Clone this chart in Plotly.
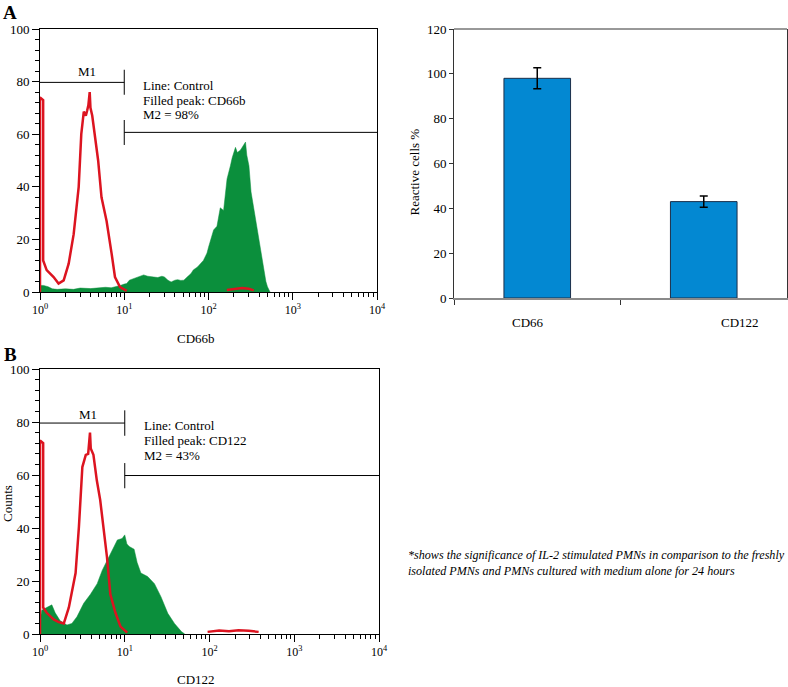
import plotly.graph_objects as go

# ---------------- data ----------------
# Panel A (CD66b) histogram
ctrlA_x = [1.0, 1.0, 1.09, 1.09, 1.2, 1.45, 1.66, 1.91, 2.19, 2.51, 2.88, 3.09, 3.31, 3.5, 3.63, 3.75,
           3.89, 3.97, 4.17, 4.47, 4.9, 5.37, 6.17, 7.08, 7.76, 8.91, 10.7, None,
           165, 200, 250, 300, 345]
ctrlA_y = [0, 74, 73, 12, 8.3, 5.7, 3.2, 4.4, 10.8, 22, 40, 60, 68.6, 67, 69, 71,
           76, 70, 67, 60, 50, 36, 27, 14.6, 5.7, 1.9, 0.4, None,
           0.8, 1.2, 1.5, 1.2, 0.6]
cd66b_x = [1.0, 1.1, 1.25, 1.4, 1.6, 2.0, 2.5, 3.0, 4.0, 5.0, 6.0, 7.0, 8.0, 9.0, 10.0, 10.7, 11.5,
           12.9, 15.5, 17, 19, 22, 25, 28, 30, 33, 36, 40, 43, 47, 51, 55, 62, 66, 74, 87, 96,
           100, 115, 126, 138, 151, 166, 182, 191, 209, 220, 240, 260, 275, 285, 302, 320, 347,
           370, 398, 430, 457, 480, 501, 537]
cd66b_y = [2.5, 2.5, 2.0, 1.2, 1.0, 1.2, 1.0, 1.5, 1.3, 1.5, 1.8, 1.6, 2.0, 2.5, 3.0, 3.2, 4.5,
           5.0, 5.8, 6.5, 6.0, 5.8, 5.5, 6.0, 5.7, 4.5, 3.8, 4.5, 4.7, 4.4, 4.5, 5.5, 7.0, 8.4, 9.5, 12, 14.8,
           17, 23.6, 25, 32, 31, 43, 48, 51, 55, 53, 54, 56, 57, 52, 48, 38, 31,
           25, 20, 12, 8, 4, 2, 0]

# Panel B (CD122) histogram
ctrlB_x = [1.0, 1.0, 1.09, 1.09, 1.2, 1.45, 1.66, 1.91, 2.19, 2.63, 2.88, 3.16, 3.47, 3.7, 3.89,
           3.97, 4.27, 4.68, 5.13, 5.62, 6.17, 6.76, 7.76, 8.91, 10.7, None,
           95, 130, 170, 220, 290, 380]
ctrlB_y = [0, 73, 72, 10, 8, 5.5, 4.5, 4, 10, 23, 40.5, 63, 67.6, 68, 76,
           70, 67.6, 58, 50.6, 40, 29, 15, 8, 2.8, 0.5, None,
           0.8, 1.3, 1.0, 1.4, 1.2, 0.8]
cd122_x = [1.0, 1.05, 1.2, 1.38, 1.51, 1.73, 2.08, 2.38, 2.73, 3.28, 3.94, 4.73, 5.42, 6.22, 7.13,
           8.18, 9.3, 10.0, 10.6, 11.3, 12.9, 14.0, 15.5, 18.6, 22.4, 26.8, 32.2, 38.6, 46.6, 51]
cd122_y = [5, 9, 10, 11, 8, 5, 3.4, 4, 6.5, 11.6, 15, 19, 24, 28, 32,
           35.5, 36, 37.4, 34, 33, 32, 27, 23, 21.7, 19, 14, 7.8, 4, 0.9, 0]

# Gates (marker regions)
gateA_m1_y = 79.7
gateA_m2_y = 60.7
gateB_m1_y = 79.6
gateB_m2_y = 59.8
gate_x_start = 1
gate_x_split = 10
gate_x_end = 10000

hist_tickvals = [1, 10, 100, 1000, 10000]
hist_ticktext = ["10<sup>0</sup>", "10<sup>1</sup>", "10<sup>2</sup>", "10<sup>3</sup>", "10<sup>4</sup>"]

# Bar chart
bar_categories = ["CD66", "CD122"]
bar_values = [98, 43]
bar_errors = [4.7, 2.5]

footnote = ("*shows the significance of IL-2 stimulated PMNs in comparison to the freshly<br>"
            "isolated PMNs and PMNs cultured with medium alone for 24 hours")

# ---------------- figure ----------------
FONT = "Liberation Serif"
RED = "#dc1420"
GREEN = "#0b8f3c"

fig = go.Figure()

# Panel A
fig.add_trace(go.Scatter(x=cd66b_x, y=cd66b_y, mode="lines", fill="tozeroy",
                         fillcolor=GREEN, line=dict(color=GREEN, width=0.5),
                         xaxis="x", yaxis="y", showlegend=False))
fig.add_trace(go.Scatter(x=ctrlA_x, y=ctrlA_y, mode="lines",
                         line=dict(color=RED, width=2.5), xaxis="x", yaxis="y", showlegend=False))
fig.add_trace(go.Scatter(x=[gate_x_start, gate_x_split, None, gate_x_split, gate_x_split],
                         y=[gateA_m1_y, gateA_m1_y, None, gateA_m1_y + 4.8, gateA_m1_y - 4.7],
                         mode="lines", line=dict(color="black", width=1),
                         xaxis="x", yaxis="y", showlegend=False))
fig.add_trace(go.Scatter(x=[gate_x_split, gate_x_end, None, gate_x_split, gate_x_split],
                         y=[gateA_m2_y, gateA_m2_y, None, gateA_m2_y + 4.7, gateA_m2_y - 4.8],
                         mode="lines", line=dict(color="black", width=1),
                         xaxis="x", yaxis="y", showlegend=False))

# Bar chart
fig.add_trace(go.Bar(x=bar_categories, y=bar_values, width=0.4,
                     marker=dict(color="#0388d2", line=dict(color="#1c2f4a", width=1)),
                     error_y=dict(type="data", array=bar_errors, color="black",
                                  thickness=1.5, width=4),
                     xaxis="x2", yaxis="y2", showlegend=False))

# Panel B
fig.add_trace(go.Scatter(x=cd122_x, y=cd122_y, mode="lines", fill="tozeroy",
                         fillcolor=GREEN, line=dict(color=GREEN, width=0.5),
                         xaxis="x3", yaxis="y3", showlegend=False))
fig.add_trace(go.Scatter(x=ctrlB_x, y=ctrlB_y, mode="lines",
                         line=dict(color=RED, width=2.5), xaxis="x3", yaxis="y3", showlegend=False))
fig.add_trace(go.Scatter(x=[gate_x_start, gate_x_split, None, gate_x_split, gate_x_split],
                         y=[gateB_m1_y, gateB_m1_y, None, gateB_m1_y + 4.8, gateB_m1_y - 4.8],
                         mode="lines", line=dict(color="black", width=1),
                         xaxis="x3", yaxis="y3", showlegend=False))
fig.add_trace(go.Scatter(x=[gate_x_split, gate_x_end, None, gate_x_split, gate_x_split],
                         y=[gateB_m2_y, gateB_m2_y, None, gateB_m2_y + 4.7, gateB_m2_y - 4.8],
                         mode="lines", line=dict(color="black", width=1),
                         xaxis="x3", yaxis="y3", showlegend=False))

W, H = 788, 687

def hist_x(domain):
    return dict(domain=domain, type="log", range=[0, 4], tickvals=hist_tickvals,
                ticktext=hist_ticktext, ticks="outside", ticklen=7, tickcolor="black",
                showline=True, linecolor="black", linewidth=1, mirror=True,
                showgrid=False, zeroline=False, automargin=False,
                tickfont=dict(family=FONT, size=12, color="black"),
                minor=dict(dtick="D1", ticks="outside", ticklen=4, tickcolor="black", showgrid=False))

def hist_y(domain, anchor):
    return dict(domain=domain, anchor=anchor, range=[0, 100], tickvals=[0, 20, 40, 60, 80, 100],
                ticks="outside", ticklen=7, tickcolor="black",
                showline=True, linecolor="black", linewidth=1, mirror=True,
                showgrid=False, zeroline=False, automargin=False,
                tickfont=dict(family=FONT, size=13, color="black"),
                minor=dict(dtick=4, ticks="outside", ticklen=4, tickcolor="black", showgrid=False))

xa = hist_x([40 / W, 377 / W]); xa["anchor"] = "y"
xb = hist_x([40 / W, 379 / W]); xb["anchor"] = "y3"

fig.update_layout(
    width=W, height=H,
    margin=dict(l=0, r=0, t=0, b=0, autoexpand=False),
    paper_bgcolor="white", plot_bgcolor="white",
    font=dict(family=FONT, color="black"),
    xaxis=xa,
    yaxis=hist_y([1 - 292 / H, 1 - 29 / H], "x"),
    xaxis3=xb,
    yaxis3=hist_y([1 - 634 / H, 1 - 369 / H], "x3"),
    xaxis2=dict(domain=[454 / W, 787 / W], anchor="y2", tickson="boundaries",
                ticks="outside", ticklen=5, tickcolor="#333", showticklabels=False,
                showline=True, linecolor="#8a8a8a", linewidth=1.5, showgrid=False,
                range=[-0.5, 1.5], automargin=False),
    yaxis2=dict(domain=[1 - 298 / H, 1 - 29 / H], anchor="x2", range=[0, 120], dtick=20,
                ticks="outside", ticklen=4, tickcolor="#333",
                showline=True, linecolor="#333", linewidth=1, mirror=True,
                showgrid=False, zeroline=False, automargin=False,
                tickfont=dict(family=FONT, size=13, color="black")),
    bargap=0.6,
)

# top border of bar chart
fig.add_shape(type="line", xref="x2 domain", yref="y2 domain", x0=0, x1=1, y0=1, y1=1,
              line=dict(color="#333", width=1))

ann = []
def T(text, x, y, xref="paper", yref="paper", size=13, xanchor="center", yanchor="middle", **kw):
    ann.append(dict(text=text, x=x, y=y, xref=xref, yref=yref, showarrow=False,
                    xanchor=xanchor, yanchor=yanchor, borderpad=0,
                    font=dict(family=FONT, size=size, color="black"), **kw))

# panel letters
T("<b>A</b>", 10 / W, 1 - 12 / H, size=19)
T("<b>B</b>", 10 / W, 1 - 354 / H, size=19)

# Panel A texts (log-axis annotations use log10 x)
T("M1", 0.56, 83.9, xref="x", yref="y")
T("Line: Control", 1.21, 78.7, xref="x", yref="y", xanchor="left")
T("Filled peak: CD66b", 1.21, 73.0, xref="x", yref="y", xanchor="left")
T("M2 = 98%", 1.21, 67.3, xref="x", yref="y", xanchor="left")
T("CD66b", 196 / W, 1 - 338 / H)

# Panel B texts
T("M1", 0.563, 82.7, xref="x3", yref="y3")
T("Line: Control", 1.21, 78.6, xref="x3", yref="y3", xanchor="left")
T("Filled peak: CD122", 1.21, 72.9, xref="x3", yref="y3", xanchor="left")
T("M2 = 43%", 1.21, 67.4, xref="x3", yref="y3", xanchor="left")
T("CD122", 196 / W, 1 - 679 / H)
T("Counts", 7 / W, 1 - 504 / H, textangle=-90)

# Bar chart texts
T("Reactive cells %", 413.5 / W, 1 - 172 / H, size=13, textangle=-90)
T(bar_categories[0], 528 / W, 1 - 323 / H)
T(bar_categories[1], 740 / W, 1 - 323 / H)

# footnote
T("<i>" + footnote + "</i>", 407 / W, 1 - 563 / H, size=12.1, xanchor="left", align="left")

fig.update_layout(annotations=ann)
fig.write_html("out.html", config={"displayModeBar": False},
               post_script="document.body.style.margin='0px';document.body.style.overflow='hidden';")
